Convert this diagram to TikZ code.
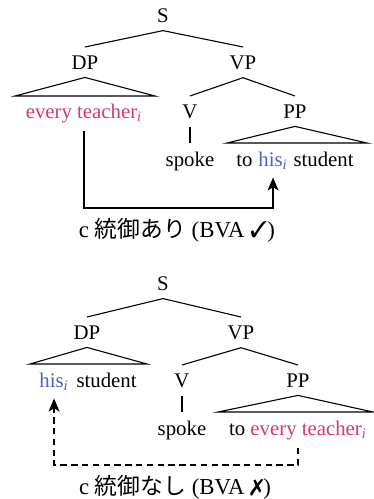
\documentclass[tikz,border=0pt]{standalone}
\usepackage{fontspec}
\setmainfont{Liberation Serif}
\newfontfamily\cjk{Noto Sans CJK JP}
\usepackage{pifont}
\usetikzlibrary{arrows.meta,calc}
\definecolor{pinkc}{RGB}{214,56,110}
\definecolor{bluec}{RGB}{82,94,184}
\begin{document}
\begin{tikzpicture}[x=0.5pt,y=-0.5pt,
  font=\fontsize{10.4}{12}\selectfont,
  lbl/.style={anchor=base, inner xsep=0pt, inner ysep=4pt},
  captext/.style={lbl, font=\fontsize{11.4}{13}\selectfont},
  br/.style={line width=0.55pt},
  link/.style={line width=1.2pt, -{Stealth[length=6.5pt,width=5.4pt,inset=1.6pt]}},
  dlink/.style={link, dash pattern=on 3.2pt off 2.2pt}]
\useasboundingbox (0,0) rectangle (374,499);
% ---------- top tree ----------
\node[lbl] (S1) at (163,22) {S};
\node[lbl] (DP1) at (85,69) {DP};
\node[lbl] (VP1) at (243,69) {VP};
\node[lbl] (ET1) at (84,118) {\color{pinkc}every teacher\textsubscript{\textit{i}}};
\node[lbl] (V1) at (190,118) {V};
\node[lbl] (PP1) at (295,118) {PP};
\node[lbl] (spoke1) at (190,166) {spoke};
\node[lbl, anchor=base west] (his1) at (258,166) {\color{bluec}his\textsubscript{\textit{i}}};
\node[lbl, anchor=base east] (to1) at ($(his1.base west)+(-5,0)$) {to};
\node[lbl, anchor=base west] (stu1) at ($(his1.base east)+(5,0)$) {student};
\coordinate (tri1l) at (15,96);
\coordinate (tri1r) at (155,96);
\coordinate (tri2l) at (227,143);
\coordinate (tri2r) at (367,143);
\coordinate (bot1) at (170,208);
\draw[br] (S1.south) -- (DP1.north);
\draw[br] (S1.south) -- (VP1.north);
\draw[br] (DP1.south) -- (tri1l) -- (tri1r) -- cycle;
\draw[br] (VP1.south) -- (V1.north);
\draw[br] (VP1.south) -- (PP1.north);
\draw[br] (V1.south) -- (spoke1.north);
\draw[br] (PP1.south) -- (tri2l) -- (tri2r) -- cycle;
\draw[link] (ET1.south) |- (bot1) -| (his1.south);
\node[captext] (cap1) at (177,237) {c {\cjk 統御あり} (BVA \ding{51})};
% ---------- bottom tree ----------
\node[lbl] (S2) at (163,290) {S};
\node[lbl] (DP2) at (87,339) {DP};
\node[lbl] (VP2) at (241,339) {VP};
\node[lbl, anchor=base west] (his2) at (39,387) {\color{bluec}his\textsubscript{\textit{i}}};
\node[lbl, anchor=base west] (stu2) at ($(his2.base east)+(7,0)$) {student};
\node[lbl] (V2) at (182,387) {V};
\node[lbl] (PP2) at (298,387) {PP};
\node[lbl] (spoke2) at (182,435) {spoke};
\node[lbl] (TET2) at (298,435) {to \textcolor{pinkc}{every teacher\textsubscript{\textit{i}}}};
\coordinate (tri3l) at (30,364);
\coordinate (tri3r) at (147,364);
\coordinate (tri4l) at (218,412);
\coordinate (tri4r) at (373,412);
\coordinate (bot2) at (170,465);
\draw[br] (S2.south) -- (DP2.north);
\draw[br] (S2.south) -- (VP2.north);
\draw[br] (DP2.south) -- (tri3l) -- (tri3r) -- cycle;
\draw[br] (VP2.south) -- (V2.north);
\draw[br] (VP2.south) -- (PP2.north);
\draw[br] (V2.south) -- (spoke2.north);
\draw[br] (PP2.south) -- (tri4l) -- (tri4r) -- cycle;
\draw[dlink] (TET2.south) |- (bot2) -| (his2.south);
\node[captext] (cap2) at (175,494) {c {\cjk 統御なし} (BVA \ding{55})};
\end{tikzpicture}
\end{document}
